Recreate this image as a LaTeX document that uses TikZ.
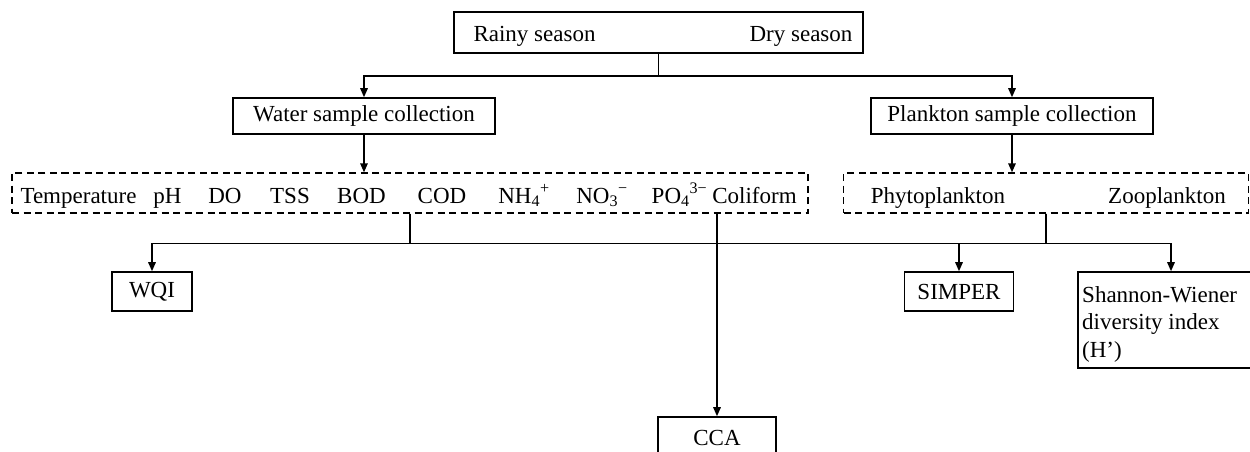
\documentclass[tikz,border=0pt]{standalone}
\usepackage{fontspec}
\setmainfont{Liberation Serif}
\usetikzlibrary{arrows.meta}
\begin{document}
\begin{tikzpicture}[x=1pt,y=-1pt,
  box/.style={draw, line width=1.6pt, rectangle, inner sep=0pt, font=\fontsize{23}{27}\selectfont},
  dbox/.style={draw, line width=1.4pt, rectangle, inner sep=0pt, dash pattern=on 7pt off 4.5pt},
  txt/.style={inner sep=0pt, anchor=base, font=\fontsize{23}{27}\selectfont},
  conn/.style={line width=1.5pt},
  arr/.style={line width=1.5pt, -{Triangle[length=9pt,width=7.5pt]}}]
\useasboundingbox (0,0) rectangle (1250,452);
% top box
\node[box, minimum width=409, minimum height=41] (top) at (658.5,32.5) {};
\node[txt] (rainy) at (534.5,42) {Rainy season};
\node[txt] (dry) at (801,42) {Dry season};
% collection boxes
\node[box, minimum width=262, minimum height=36] (water) at (364,116) {Water sample collection};
\node[box, minimum width=282, minimum height=36] (plank) at (1012,116) {Plankton sample collection};
% dashed boxes
\node[dbox, minimum width=796, minimum height=40] (wdash) at (410,193) {};
\node[txt] (t1) at (78.5,203) {Temperature};
\node[txt] (t2) at (167.5,203) {pH};
\node[txt] (t3) at (225,203) {DO};
\node[txt] (t4) at (290,203) {TSS};
\node[txt] (t5) at (361.5,203) {BOD};
\node[txt] (t6) at (442,203) {COD};
\node[txt] (t7) at (524,203) {NH\textsubscript{4}\textsuperscript{+}};
\node[txt] (t8) at (602,203) {NO\textsubscript{3}\textsuperscript{−}};
\node[txt] (t9) at (679.5,203) {PO\textsubscript{4}\textsuperscript{3−}};
\node[txt] (t10) at (754.5,203) {Coliform};
\node[dbox, minimum width=405, minimum height=40] (pdash) at (1046,193) {};
\node[txt] (phy) at (938,203) {Phytoplankton};
\node[txt] (zoo) at (1167,203) {Zooplankton};
% analysis boxes
\node[box, minimum width=80, minimum height=39] (wqi) at (152,291.5) {WQI};
\node[box, minimum width=109, minimum height=39] (simper) at (959,291.5) {SIMPER};
\node[box, minimum width=186, minimum height=96] (shannon) at (1171,320) {};
\node[inner sep=0pt, anchor=north west, align=left, font=\fontsize{23}{27.5}\selectfont] (shtxt) at (1082,286) {Shannon-Wiener\\diversity index\\(H’)};
\node[box, minimum width=118, minimum height=53] (cca) at (717,443.5) {};
\node[txt] (ccatxt) at (717,445) {CCA};
% connectors
\draw[arr] (top.south) -- ++(0,22) -| (water.north);
\draw[arr] (top.south) -- ++(0,22) -| (plank.north);
\draw[arr] (water.south) -- (water.south |- wdash.north);
\draw[arr] (plank.south) -- (plank.south |- pdash.north);
\draw[arr] (wdash.south) -- ++(0,30) -| (wqi.north);
\draw[arr] (wdash.south) -- ++(0,30) -| (cca.north);
\draw[arr] (pdash.south) -- ++(0,30) -| (simper.north);
\draw[arr] (pdash.south) -- ++(0,30) -| (shannon.north);
\draw[conn] (pdash.south) -- ++(0,30) -| (cca.north |- wdash.south);
\end{tikzpicture}
\end{document}
